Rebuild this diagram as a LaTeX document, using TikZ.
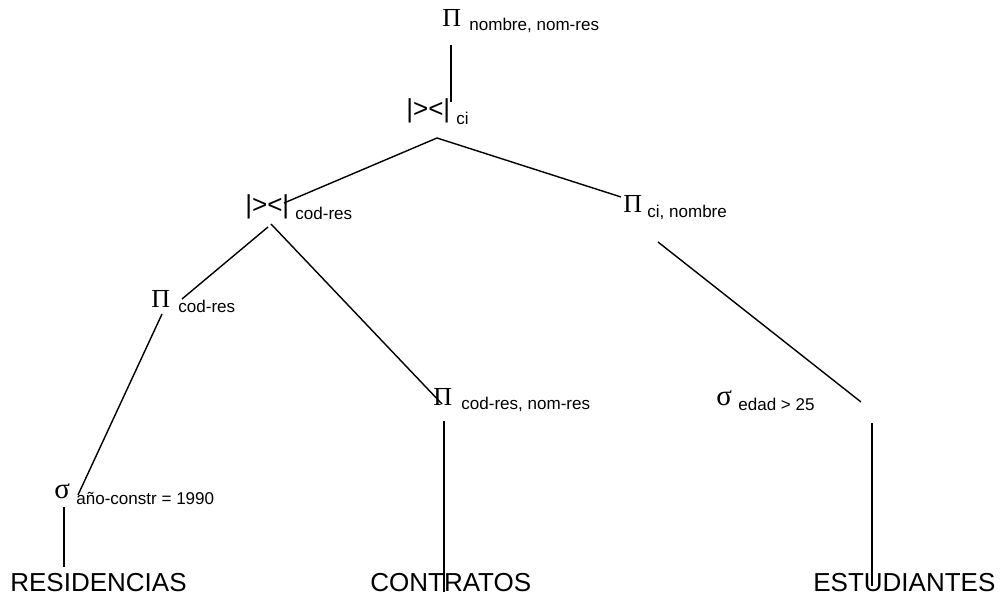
\documentclass[tikz,border=0pt]{standalone}
\usepackage{fontspec}
\setmainfont{Liberation Sans}
\newfontfamily\greekfont{Liberation Serif}
\tikzset{
  op/.style={anchor=base west, inner sep=0pt, font=\greekfont\fontsize{14.8}{17}\selectfont},
  selop/.style={op, font=\greekfont\fontsize{16.5}{19}\selectfont},
  joinop/.style={anchor=base west, inner sep=0pt, font=\fontsize{14.8}{17}\selectfont},
  attr/.style={anchor=base west, inner sep=0pt, font=\fontsize{9.7}{11}\selectfont},
  rel/.style={anchor=base west, inner sep=0pt, font=\fontsize{14.8}{17}\selectfont},
  edge/.style={line width=0.8pt}
}
\begin{document}
\begin{tikzpicture}[x=0.02cm,y=-0.02cm]
        \useasboundingbox (0,0) rectangle (1000,594);
        % operators with their subscripts
        \node[op] (proj) at (442,27) {Π};
        \node[attr] (projsub) at (469,31) {nombre, nom-res};
        \node[joinop] (join) at (406,118) {|><|};
        \node[attr] (joinsub) at (456,125) {ci};
        \node[joinop] (joinres) at (245,214) {|><|};
        \node[attr] (joinressub) at (295,220) {cod-res};
        \node[op] (projest) at (623,213) {Π};
        \node[attr] (projestsub) at (647,218) {ci, nombre};
        \node[op] (projres) at (151,308) {Π};
        \node[attr] (projressub) at (178,313) {cod-res};
        \node[op] (projcon) at (433,405) {Π};
        \node[attr] (projconsub) at (461,409) {cod-res, nom-res};
        \node[selop] (selest) at (716,405) {σ};
        \node[attr] (selestsub) at (738,410) {edad > 25};
        \node[selop] (selres) at (54,498) {σ};
        \node[attr] (selressub) at (76,504) {año-constr = 1990};
        % relations
        \node[rel] (res) at (10,591) {RESIDENCIAS};
        \node[rel] (con) at (370,591) {CONTRATOS};
        \node[rel] (est) at (813,591) {ESTUDIANTES};
        % line ends
        \coordinate (proj-b) at (451,45);
        \coordinate (join-t) at (451,102);
        \coordinate (join-b) at (437,138);
        \coordinate (joinres-t) at (284,203);
        \coordinate (projest-t) at (621,197);
        \coordinate (joinres-bl) at (268,227);
        \coordinate (joinres-br) at (271,224);
        \coordinate (projres-t) at (182,299);
        \coordinate (projcon-t) at (442,404);
        \coordinate (projres-b) at (162,314);
        \coordinate (selres-t) at (78,495);
        \coordinate (selres-b) at (64,507);
        \coordinate (res-t) at (64,567);
        \coordinate (projcon-b) at (444,421);
        \coordinate (con-t) at (444,592);
        \coordinate (projest-b) at (658,242);
        \coordinate (selest-t) at (861,402);
        \coordinate (selest-b) at (872,423);
        \coordinate (est-t) at (872,586);
        % tree edges
        \draw[edge] (proj-b) -- (join-t);
        \draw[edge] (join-b) -- (joinres-t);
        \draw[edge] (join-b) -- (projest-t);
        \draw[edge] (joinres-bl) -- (projres-t);
        \draw[edge] (joinres-br) -- (projcon-t);
        \draw[edge] (projres-b) -- (selres-t);
        \draw[edge] (selres-b) -- (res-t);
        \draw[edge] (projcon-b) -- (con-t);
        \draw[edge] (projest-b) -- (selest-t);
        \draw[edge] (selest-b) -- (est-t);
      \end{tikzpicture}
\end{document}
